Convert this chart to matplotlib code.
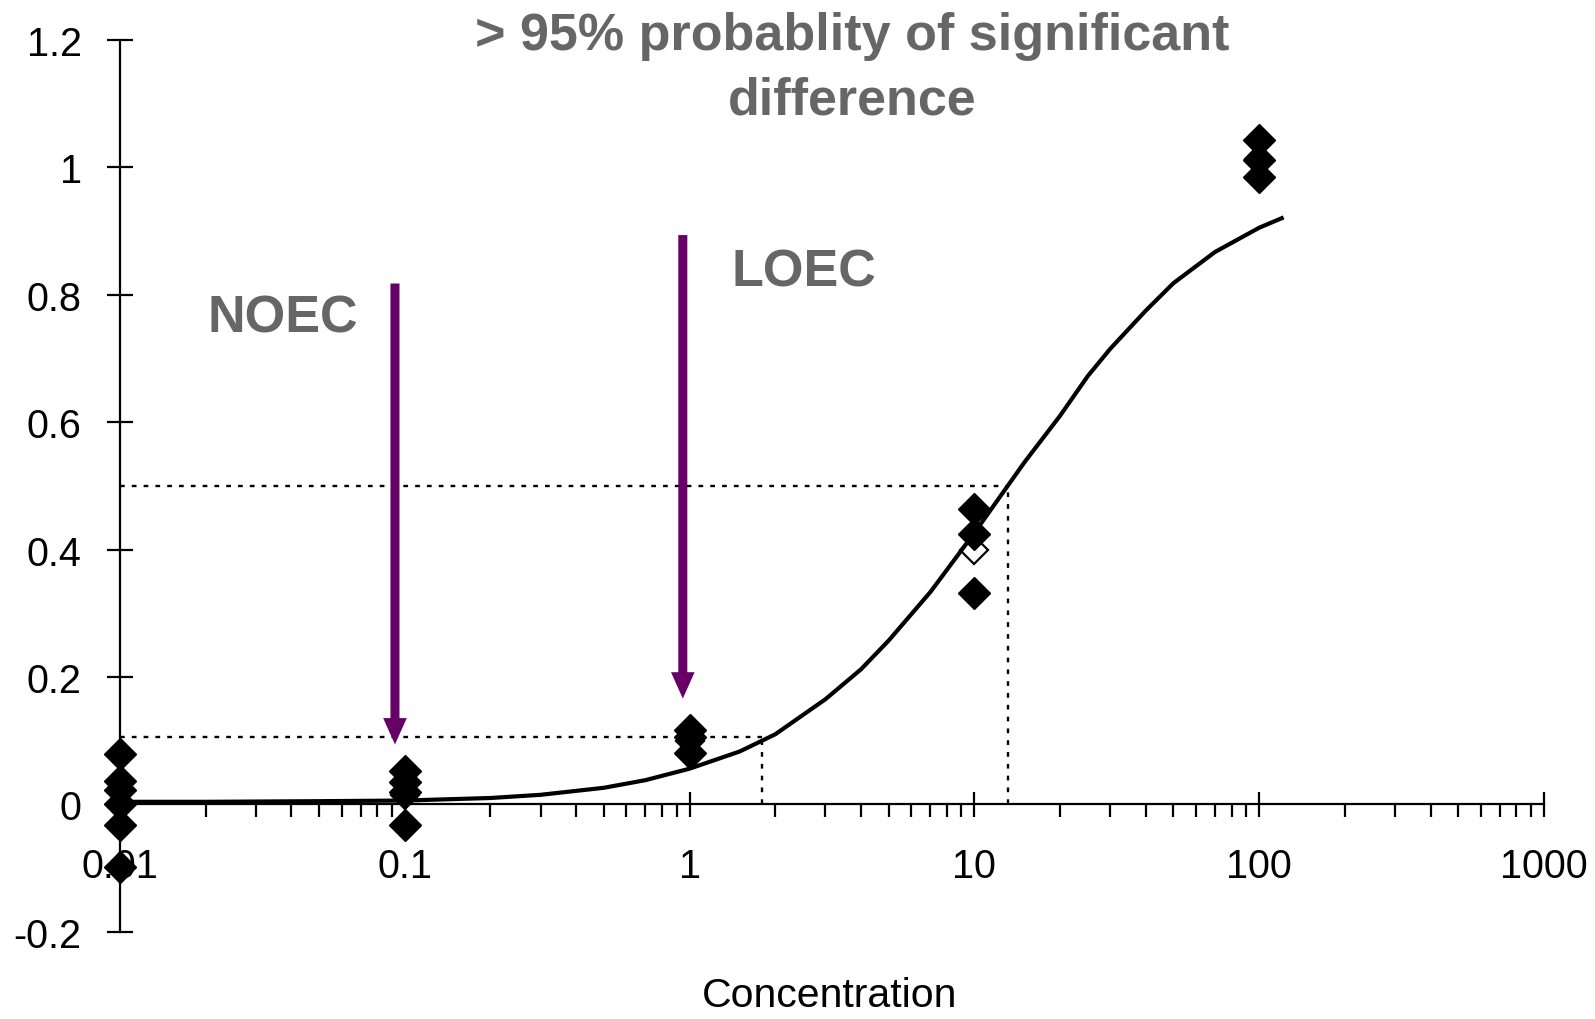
import matplotlib
matplotlib.use('Agg')
import matplotlib.pyplot as plt
from matplotlib.ticker import FixedLocator, LogLocator, FuncFormatter, NullFormatter

plt.rcParams['font.family'] = ['Liberation Sans', 'DejaVu Sans']
plt.rcParams['axes.unicode_minus'] = False

# observed responses per concentration
conc = [0.01, 0.1, 1, 10, 100]
resp_001 = [0.079, 0.037, 0.022, 0.0, -0.033, -0.098]
resp_01 = [0.053, 0.035, 0.02, -0.033]
resp_1 = [0.116, 0.106, 0.08]
resp_10 = [0.464, 0.425, 0.331]
resp_100 = [1.042, 1.011, 0.985]
means = [0.001, 0.014, 0.10, 0.40, 1.013]

# fitted concentration-response curve
curve_x = [0.01, 0.02, 0.05, 0.1, 0.2, 0.3, 0.5, 0.7, 1, 1.5, 2, 3, 4, 5, 7,
           10, 13.1, 15, 20, 25, 30, 40, 50, 70, 100, 120]
curve_y = [0.004, 0.004, 0.005, 0.006, 0.010, 0.015, 0.026, 0.038, 0.056, 0.083,
           0.11, 0.165, 0.212, 0.257, 0.333, 0.426, 0.5, 0.537, 0.61, 0.672,
           0.715, 0.775, 0.818, 0.867, 0.905, 0.92]

ec50 = 13.1
ec10 = 1.79
level50 = 0.5
level10 = 0.105

noec_x, noec_top, noec_tip = 0.0924, 0.8175, 0.094
loec_x, loec_top, loec_tip = 0.947, 0.8935, 0.166

purple = '#660066'
grey = '#666666'

fig = plt.figure(figsize=(15.95, 10.2), dpi=100)
ax = fig.add_axes([0.0752, 0.0855, 0.968 - 0.0752, 0.960 - 0.0855])
ax.set_xscale('log')
ax.set_xlim(0.01, 1000)
ax.set_ylim(-0.2, 1.2)

for s in ['top', 'right']:
    ax.spines[s].set_visible(False)
ax.spines['bottom'].set_position(('data', 0))
ax.spines['left'].set_linewidth(1.6)
ax.spines['bottom'].set_linewidth(1.6)

ax.xaxis.set_major_locator(FixedLocator([0.01, 0.1, 1, 10, 100, 1000]))
ax.xaxis.set_major_formatter(FuncFormatter(lambda v, p: '%g' % v))
ax.xaxis.set_minor_locator(LogLocator(base=10, subs=range(2, 10)))
ax.xaxis.set_minor_formatter(NullFormatter())
ax.yaxis.set_major_locator(FixedLocator([-0.2, 0, 0.2, 0.4, 0.6, 0.8, 1.0, 1.2]))
ax.yaxis.set_major_formatter(FuncFormatter(lambda v, p: '%g' % round(v, 1)))

ax.tick_params(axis='x', which='major', direction='inout', length=18, width=1.6,
               pad=22, labelsize=28.5)
ax.tick_params(axis='x', which='minor', direction='out', length=9, width=1.6)
ax.tick_params(axis='y', which='major', direction='inout', length=19, width=1.6,
               pad=18, labelsize=28.5)

# dotted guide lines for EC50 and EC10
dots = dict(color='black', lw=1.7, linestyle=(0, (2, 3)), zorder=2)
ax.plot([0.01, ec50], [level50, level50], **dots)
ax.plot([ec50, ec50], [0, level50], **dots)
ax.plot([0.01, ec10], [level10, level10], **dots)
ax.plot([ec10, ec10], [0, level10], **dots)

# means (hollow) behind the replicates
ax.plot(conc, means, 'D', ms=14, mfc='white', mec='black', mew=1.6,
        ls='none', zorder=4, clip_on=False)
for c, vals in zip(conc, [resp_001, resp_01, resp_1, resp_10, resp_100]):
    ax.plot([c] * len(vals), vals, 'D', ms=16, color='black', ls='none',
            zorder=5, clip_on=False)

ax.plot(curve_x, curve_y, color='black', lw=3.0, zorder=6)

arrow = dict(arrowstyle='simple,head_length=1.9,head_width=1.7,tail_width=0.65',
             mutation_scale=10, color=purple, lw=0, shrinkA=0, shrinkB=0)
ax.annotate('', xy=(noec_x, noec_tip), xytext=(noec_x, noec_top), arrowprops=arrow)
ax.annotate('', xy=(loec_x, loec_tip), xytext=(loec_x, loec_top), arrowprops=arrow)

ax.text(0.0373, 0.764, 'NOEC', color=grey, fontsize=37.5, fontweight='bold',
        ha='center', va='center')
ax.text(2.51, 0.836, 'LOEC', color=grey, fontsize=37.5, fontweight='bold',
        ha='center', va='center')

fig.text(852 / 1595, 1 - 12 / 1020, '> 95% probablity of significant\ndifference',
         color=grey, fontsize=37.5, fontweight='bold', ha='center', va='top',
         linespacing=1.42)

ax.set_xlabel('Concentration', fontsize=29.5)
ax.xaxis.set_label_coords(0.498, -0.05)

fig.savefig('out.png', dpi=100)
